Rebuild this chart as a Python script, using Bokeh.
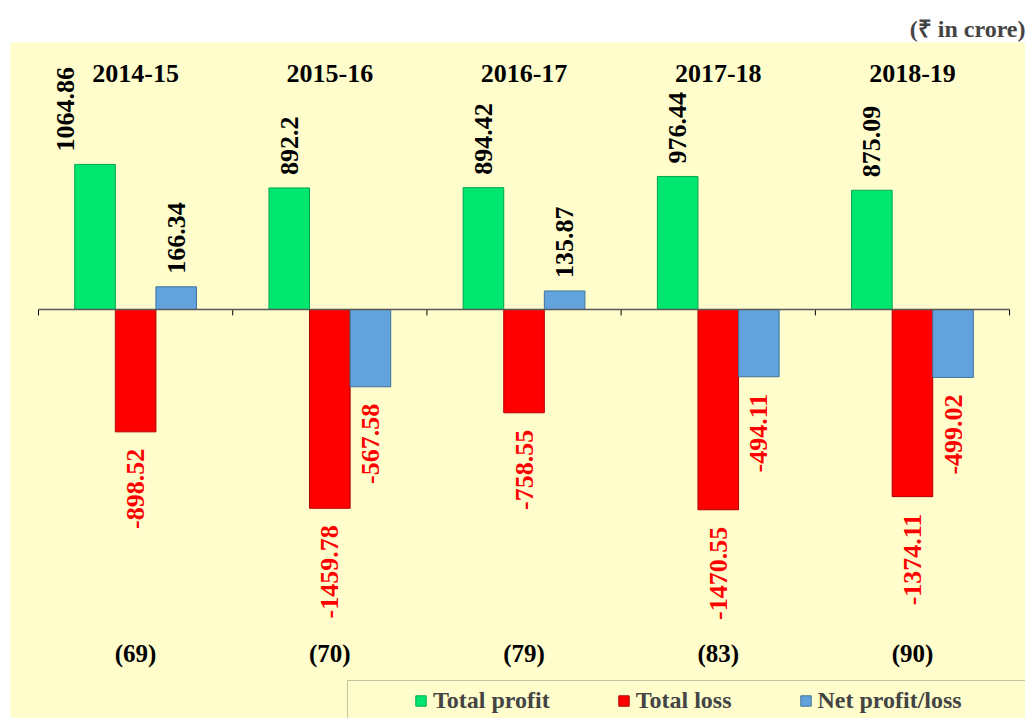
import math
from bokeh.plotting import figure
from bokeh.models import ColumnDataSource, Legend, LegendItem, BoxAnnotation
from bokeh.core.properties import value
from bokeh.embed import file_html
from bokeh.resources import INLINE

# ---- data ----
years = ["2014-15", "2015-16", "2016-17", "2017-18", "2018-19"]
total_profit = [1064.86, 892.2, 894.42, 976.44, 875.09]
total_loss = [-898.52, -1459.78, -758.55, -1470.55, -1374.11]
net_profit_loss = [166.34, -567.58, 135.87, -494.11, -499.02]
counts = ["(69)", "(70)", "(79)", "(83)", "(90)"]
series_names = ["Total profit", "Total loss", "Net profit/loss"]
unit_note = "(₹ in crore)"

# ---- style ----
FONT = value("Liberation Serif")
BG = "#FFFDCC"
fills = ["#00E66E", "#FF0000", "#62A3DD"]
edges = ["#00A650", "#B00000", "#41719C"]
LABEL_PX = 26

W, H = 1025, 718
MB_TOP, MB_LEFT = 42, 10
X0, X1 = -0.1442, 5.082
Y0, Y1 = -3003, 1960

p = figure(width=W, height=H, x_range=(X0, X1), y_range=(Y0, Y1),
           x_axis_type=None, y_axis_type=None,
           output_backend="svg", toolbar_location=None,
           min_border=0, min_border_left=MB_LEFT, min_border_top=MB_TOP,
           min_border_right=0, min_border_bottom=0,
           background_fill_color=BG, border_fill_color="white",
           outline_line_color=None)

p.title.text = unit_note
p.title.align = "right"
p.title.text_font = "Liberation Serif"
p.title.text_font_size = "24px"
p.title.text_font_style = "bold"
p.title.standoff = 2

n = len(years)
centers = [i + 0.5 for i in range(n)]
bw = 0.209
offsets = [-bw, 0.0, bw]
series = [total_profit, total_loss, net_profit_loss]

renderers = []
for vals, off, fc, lc in zip(series, offsets, fills, edges):
    src = ColumnDataSource(dict(x=[c + off for c in centers], top=vals))
    r = p.vbar(x="x", top="top", bottom=0, width=bw, source=src,
               fill_color=fc, line_color=lc, line_width=1)
    renderers.append(r)

# zero line with downward ticks at category boundaries
bounds = list(range(n + 1))
px_per_unit = (H - MB_TOP) / (Y1 - Y0)
tick = 6 / px_per_unit
p.segment(x0=bounds, y0=0, x1=bounds, y1=-tick, line_color="black", line_width=1)
p.segment(x0=bounds[0], y0=0, x1=bounds[-1], y1=0, line_color="#595959", line_width=1.5)

# category labels at top and counts at bottom
cat_y = 1733
count_y = -2526


def est_len(s):
    em = sum(0.25 if ch == "." else (0.333 if ch == "-" else 0.5) for ch in s)
    return em * LABEL_PX


# value labels (a positive label that would run into the year label moves left)
pos = dict(x=[], y=[], t=[], dx=[])
neg = dict(x=[], y=[], t=[])
room = cat_y * px_per_unit - 14
for vals, off in zip(series, offsets):
    for c, v in zip(centers, vals):
        t = f"{v:g}"
        if v >= 0:
            pos["x"].append(c + off)
            pos["y"].append(v)
            pos["t"].append(t)
            need = v * px_per_unit + 13 + est_len(t)
            pos["dx"].append(-30 if need > room else 0)
        else:
            neg["x"].append(c + off)
            neg["y"].append(v)
            neg["t"].append(t)

p.text(x="x", y="y", text="t", source=ColumnDataSource(pos), angle=math.pi / 2,
       text_align="left", text_baseline="middle", y_offset=-13, x_offset="dx",
       text_color="black", text_font=FONT, text_font_style="bold",
       text_font_size=f"{LABEL_PX}px")
p.text(x="x", y="y", text="t", source=ColumnDataSource(neg), angle=math.pi / 2,
       text_align="right", text_baseline="middle", y_offset=17,
       text_color="#FF0000", text_font=FONT, text_font_style="bold",
       text_font_size=f"{LABEL_PX}px")

p.text(x=centers, y=cat_y, text=years, text_align="center", text_baseline="middle",
       text_color="black", text_font=FONT, text_font_style="bold", text_font_size="26px")
p.text(x=centers, y=count_y, text=counts, text_align="center", text_baseline="middle",
       text_color="black", text_font=FONT, text_font_style="bold", text_font_size="25px")

# legend box + legend
box = BoxAnnotation(left=337, top=38, left_units="screen", top_units="screen",
                    fill_color=BG, fill_alpha=1, line_color="#404040", line_width=1)
p.add_layout(box)

legend = Legend(items=[LegendItem(label=nm, renderers=[r]) for nm, r in zip(series_names, renderers)],
                orientation="horizontal", location=(400, 0),
                glyph_width=13, glyph_height=13, label_standoff=6, spacing=67,
                padding=4, margin=0, border_line_alpha=0, background_fill_alpha=0,
                label_text_font="Liberation Serif", label_text_font_style="bold",
                label_text_font_size="24px")
p.add_layout(legend)

open("out.html", "w").write(file_html(p, INLINE))
